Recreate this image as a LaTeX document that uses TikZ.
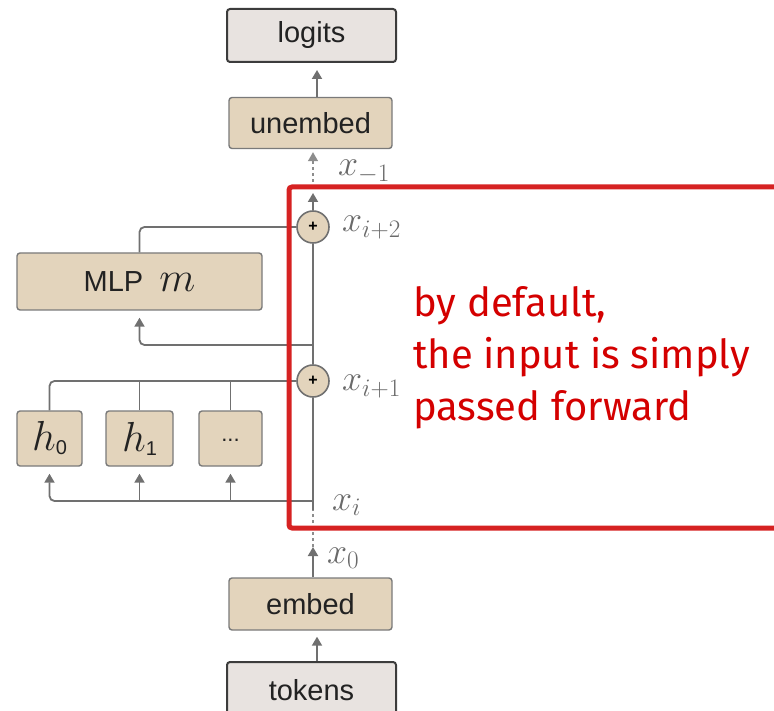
\RequirePackage{fix-cm}
\documentclass[tikz,border=0pt]{standalone}
\usepackage[no-math]{fontspec}
\setmainfont{Liberation Sans}
\newfontfamily\notefont{Fira Sans}
\usetikzlibrary{arrows.meta}

\definecolor{tanfill}{HTML}{E3D4BC}
\definecolor{boxline}{HTML}{7A7A7A}
\definecolor{iofill}{HTML}{E8E3E0}
\definecolor{ioline}{HTML}{3C3C3C}
\definecolor{wiregray}{HTML}{707070}
\definecolor{labgray}{HTML}{6A6A6A}
\definecolor{textdark}{HTML}{222222}
\definecolor{noteframe}{HTML}{D62222}
\definecolor{notetext}{HTML}{D40000}

\begin{document}
\begin{tikzpicture}[x=1pt,y=-1pt,
  box/.style={draw=boxline, fill=tanfill, line width=1.4pt, rounded corners=3pt,
    inner sep=0pt, text=textdark, font=\fontsize{29}{34}\selectfont},
  iobox/.style={box, draw=ioline, fill=iofill, line width=2pt},
  wire/.style={draw=wiregray, line width=1.8pt, rounded corners=5pt},
  arr/.style={wire, -{Triangle[length=9pt,width=10pt]}},
  dotwire/.style={draw=wiregray!80, line width=1.2pt, dash pattern=on 3pt off 3pt},
  plus/.style={circle, draw=wiregray, fill=tanfill, line width=1.6pt,
    minimum size=32pt, inner sep=0pt, font=\fontsize{16}{16}\selectfont\bfseries},
  lab/.style={text=labgray, inner sep=0pt, font=\fontsize{36}{40}\selectfont}
]
\useasboundingbox (0,0) rectangle (774,711);
\clip (0,0) rectangle (774,711);

% blocks
\node[iobox, minimum width=169pt, minimum height=53pt] (logits)  at (311.5,35.5) {logits};
\node[box,   minimum width=163pt, minimum height=51pt] (unembed) at (310.5,123)  {unembed};
\node[box,   minimum width=245pt, minimum height=57pt] (mlp)     at (139.5,281.5)
  {MLP\hspace{16pt}{\fontsize{42}{48}\selectfont$m$}};
\node[box, minimum width=65pt, minimum height=55pt] (h0)   at (49.5,438.5)
  {\fontsize{42}{46}\selectfont$h$\raisebox{-4pt}{\fontsize{20}{24}\selectfont 0}};
\node[box, minimum width=67pt, minimum height=55pt] (h1)   at (139.5,438.5)
  {\fontsize{42}{46}\selectfont$h$\raisebox{-4pt}{\fontsize{20}{24}\selectfont 1}};
\node[box, minimum width=63pt, minimum height=55pt] (dots) at (230.5,438.5)
  {\raisebox{-6pt}{\fontsize{22}{26}\selectfont...}};
\node[box,   minimum width=163pt, minimum height=52pt] (embed)  at (310.5,604) {embed};
\node[iobox, minimum width=169pt, minimum height=56pt] (tokens) at (311.5,690) {tokens};

% residual stream
\node[plus] (p2) at (313,227) {+};
\node[plus] (p1) at (313,381) {+};
\coordinate (ax)  at (317,0);
\coordinate (xi)  at (313,510);
\coordinate (hb)  at (313,501);
\coordinate (mi)  at (313,345);
\coordinate (top) at (313,193);
\coordinate (xm1) at (313,188);
\coordinate (x0)  at (313,547);

\draw[arr, shorten >=7pt] (unembed.north -| ax) -- (logits.south -| ax);
\draw[dotwire, -{Triangle[length=9pt,width=10pt]}, shorten >=3pt] (xm1) -- (unembed.south -| xm1);
\draw[wire] (xi) -- (p1.south);
\draw[wire] (p1.north) -- (p2.south);
\draw[arr] (p2.north) -- (top);
\draw[arr] (embed.north -| x0) -- (x0);
\draw[dotwire] (x0) -- (xi);
\draw[arr, shorten >=6pt] (tokens.north -| ax) -- (embed.south -| ax);

% attention heads
\draw[arr, shorten >=7pt] (hb) -| (h0.south);
\draw[arr, shorten >=7pt] (h1.south |- hb) -- (h1.south);
\draw[arr, shorten >=7pt] (dots.south |- hb) -- (dots.south);
\draw[wire] (h0.north) |- (p1.west);
\draw[wire] (h1.north) -- (h1.north |- p1.west);
\draw[wire] (dots.north) -- (dots.north |- p1.west);

% MLP branch
\draw[arr, shorten >=7pt] (mi) -| (mlp.south);
\draw[wire] (mlp.north) |- (p2.west);

% stream labels
\node[lab, anchor=base west] (lm1) at (338,176) {$x_{-1}$};
\node[lab, anchor=base west] (l2)  at (342,232) {$x_{i+2}$};
\node[lab, anchor=base west] (l1)  at (342,391) {$x_{i+1}$};
\node[lab, anchor=base west] (l0i) at (332,510) {$x_i$};
\node[lab, anchor=base west] (lx0) at (327,563) {$x_0$};

% highlighted region and note
\draw[draw=noteframe, line width=5pt, rounded corners=3pt] (289,187) rectangle (800,528);
\node[anchor=base west, align=left, inner sep=0pt, text=notetext,
  font=\notefont\fontsize{40}{52}\selectfont] (note) at (413,420)
  {by default,\\the input is simply\\passed forward};
\end{tikzpicture}
\end{document}
